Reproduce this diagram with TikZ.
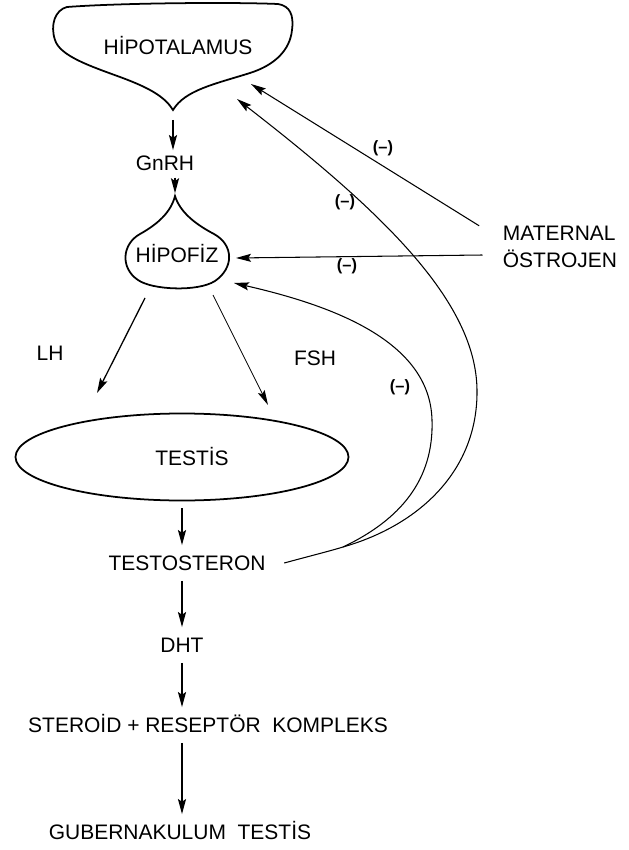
\documentclass[tikz,border=0pt]{standalone}
\usepackage{fontspec}
\setmainfont{Liberation Sans}
\usetikzlibrary{arrows.meta,positioning,shapes.geometric}
\tikzset{
  font=\fontsize{17.9}{23}\selectfont,
  txt/.style   ={text height=12.8pt, text depth=0pt, inner sep=3pt},
  organ/.style ={draw, line width=1.5pt},
  arr/.style   ={-{Stealth[length=4.5mm,width=2.4mm,inset=0.8mm]}, line width=1.5pt},
  lharr/.style ={-{Stealth[length=4.5mm,width=2.4mm,inset=0.8mm]}, line width=1.1pt},
  fsharr/.style={-{Stealth[length=4.5mm,width=2.2mm,inset=0.8mm]}, line width=0.7pt},
  fb/.style    ={-{Stealth[length=4.5mm,width=2.4mm,inset=0.8mm]}, line width=0.9pt},
  neg/.style   ={font=\fontsize{14}{16}\selectfont\bfseries, inner sep=1pt},
}
\begin{document}
\begin{tikzpicture}[x=0.03cm,y=0.03cm]
  \useasboundingbox (0,0) rectangle (629,-850);

  % hypothalamus and hypophysis outlines
  \draw[organ] (173,-110) .. controls (165,-97) and (150,-88) .. (120,-77)
        .. controls (90,-66) and (60,-56) .. (55,-40)
        .. controls (50,-25) and (55,-10) .. (67,-7)
        .. controls (120,-3) and (230,-2) .. (278,-4)
        .. controls (290,-6) and (294,-15) .. (292,-30)
        .. controls (290,-50) and (275,-65) .. (250,-73)
        .. controls (215,-84) and (185,-90) .. cycle;
  \draw[organ] (175,-196) .. controls (171,-212) and (158,-224) .. (140,-234)
        .. controls (122,-244) and (120,-268) .. (138,-280)
        .. controls (152,-290) and (198,-292) .. (215,-281)
        .. controls (234,-268) and (234,-245) .. (214,-234)
        .. controls (195,-224) and (180,-212) .. cycle;

  \node[txt] (hypo)    at (178,-47)  {HİPOTALAMUS};
  \node[txt] (gnrh)    at (165,-163) {GnRH};
  \node[txt] (hipofiz) at (177,-255) {HİPOFİZ};
  \node[txt] (lh)      at (50,-353)  {LH};
  \node[txt] (fsh)     at (315,-358) {FSH};
  \node[ellipse, organ, minimum width=9.99cm, minimum height=2.61cm, inner sep=0pt]
        (testis) at (182,-457) {\hspace*{6mm}TESTİS};
  \node[txt] (testo)   at (187,-563) {TESTOSTERON};
  \node[txt] (dht)     at (182,-645) {DHT};
  \node[txt] (steroid) at (208,-725) {STEROİD + RESEPTÖR\ \ KOMPLEKS};
  \node[txt] (guber)   at (180,-832) {GUBERNAKULUM\ \ TESTİS};
  \node[align=left, inner sep=3pt] (maternal) at (560,-247) {MATERNAL\\ÖSTROJEN};

  \coordinate (hypoTip) at (173,-110);
  \coordinate (hypoIn1) at (251,-84);
  \coordinate (hypoIn2) at (237,-99);
  \coordinate (hipoTip) at (175,-195);
  \coordinate (hipoIn1) at (236,-258);
  \coordinate (hipoIn2) at (234,-283);
  \coordinate (lhFrom)  at (145,-298);
  \coordinate (lhTo)    at (97,-393);
  \coordinate (fshFrom) at (213,-295);
  \coordinate (fshTo)   at (268,-405);
  \coordinate (split)   at (343,-547);

  % main axis
  \draw[arr, shorten <=3mm, shorten >=0.5mm] (hypoTip) -- (hypoTip |- gnrh.north);
  \draw[arr, shorten <=1mm, shorten >=0.5mm] (gnrh.south -| hipoTip) -- (hipoTip);
  \draw[lharr] (lhFrom) -- (lhTo);
  \draw[fsharr] (fshFrom) -- (fshTo);
  \foreach \a/\b in {testis/testo, testo/dht, dht/steroid, steroid/guber}
    \draw[arr, shorten <=2mm, shorten >=2mm] (\a.south -| dht.south) -- (\b.north -| dht.south);

  % negative feedback
  \draw[fb] ([xshift=-6mm,yshift=-1mm]maternal.north west) -- (hypoIn1);
  \draw[fb] ([xshift=-5mm,yshift=-2.4mm]maternal.west) -- (hipoIn1);
  \draw[fb] ([xshift=4.5mm]testo.east) .. controls (310,-556) and (330,-551) .. (split)
        .. controls (420,-525) and (478,-470) .. (477,-390)
        .. controls (476,-300) and (380,-210) .. (hypoIn2);
  \draw[fb] (split) .. controls (400,-520) and (434,-480) .. (432,-420)
        .. controls (430,-340) and (330,-305) .. (hipoIn2);

  \node[neg] (negA) at (383,-148) {(–)};
  \node[neg] (negB) at (345,-202) {(–)};
  \node[neg] (negC) at (347,-266) {(–)};
  \node[neg] (negD) at (400,-387) {(–)};
\end{tikzpicture}
\end{document}
